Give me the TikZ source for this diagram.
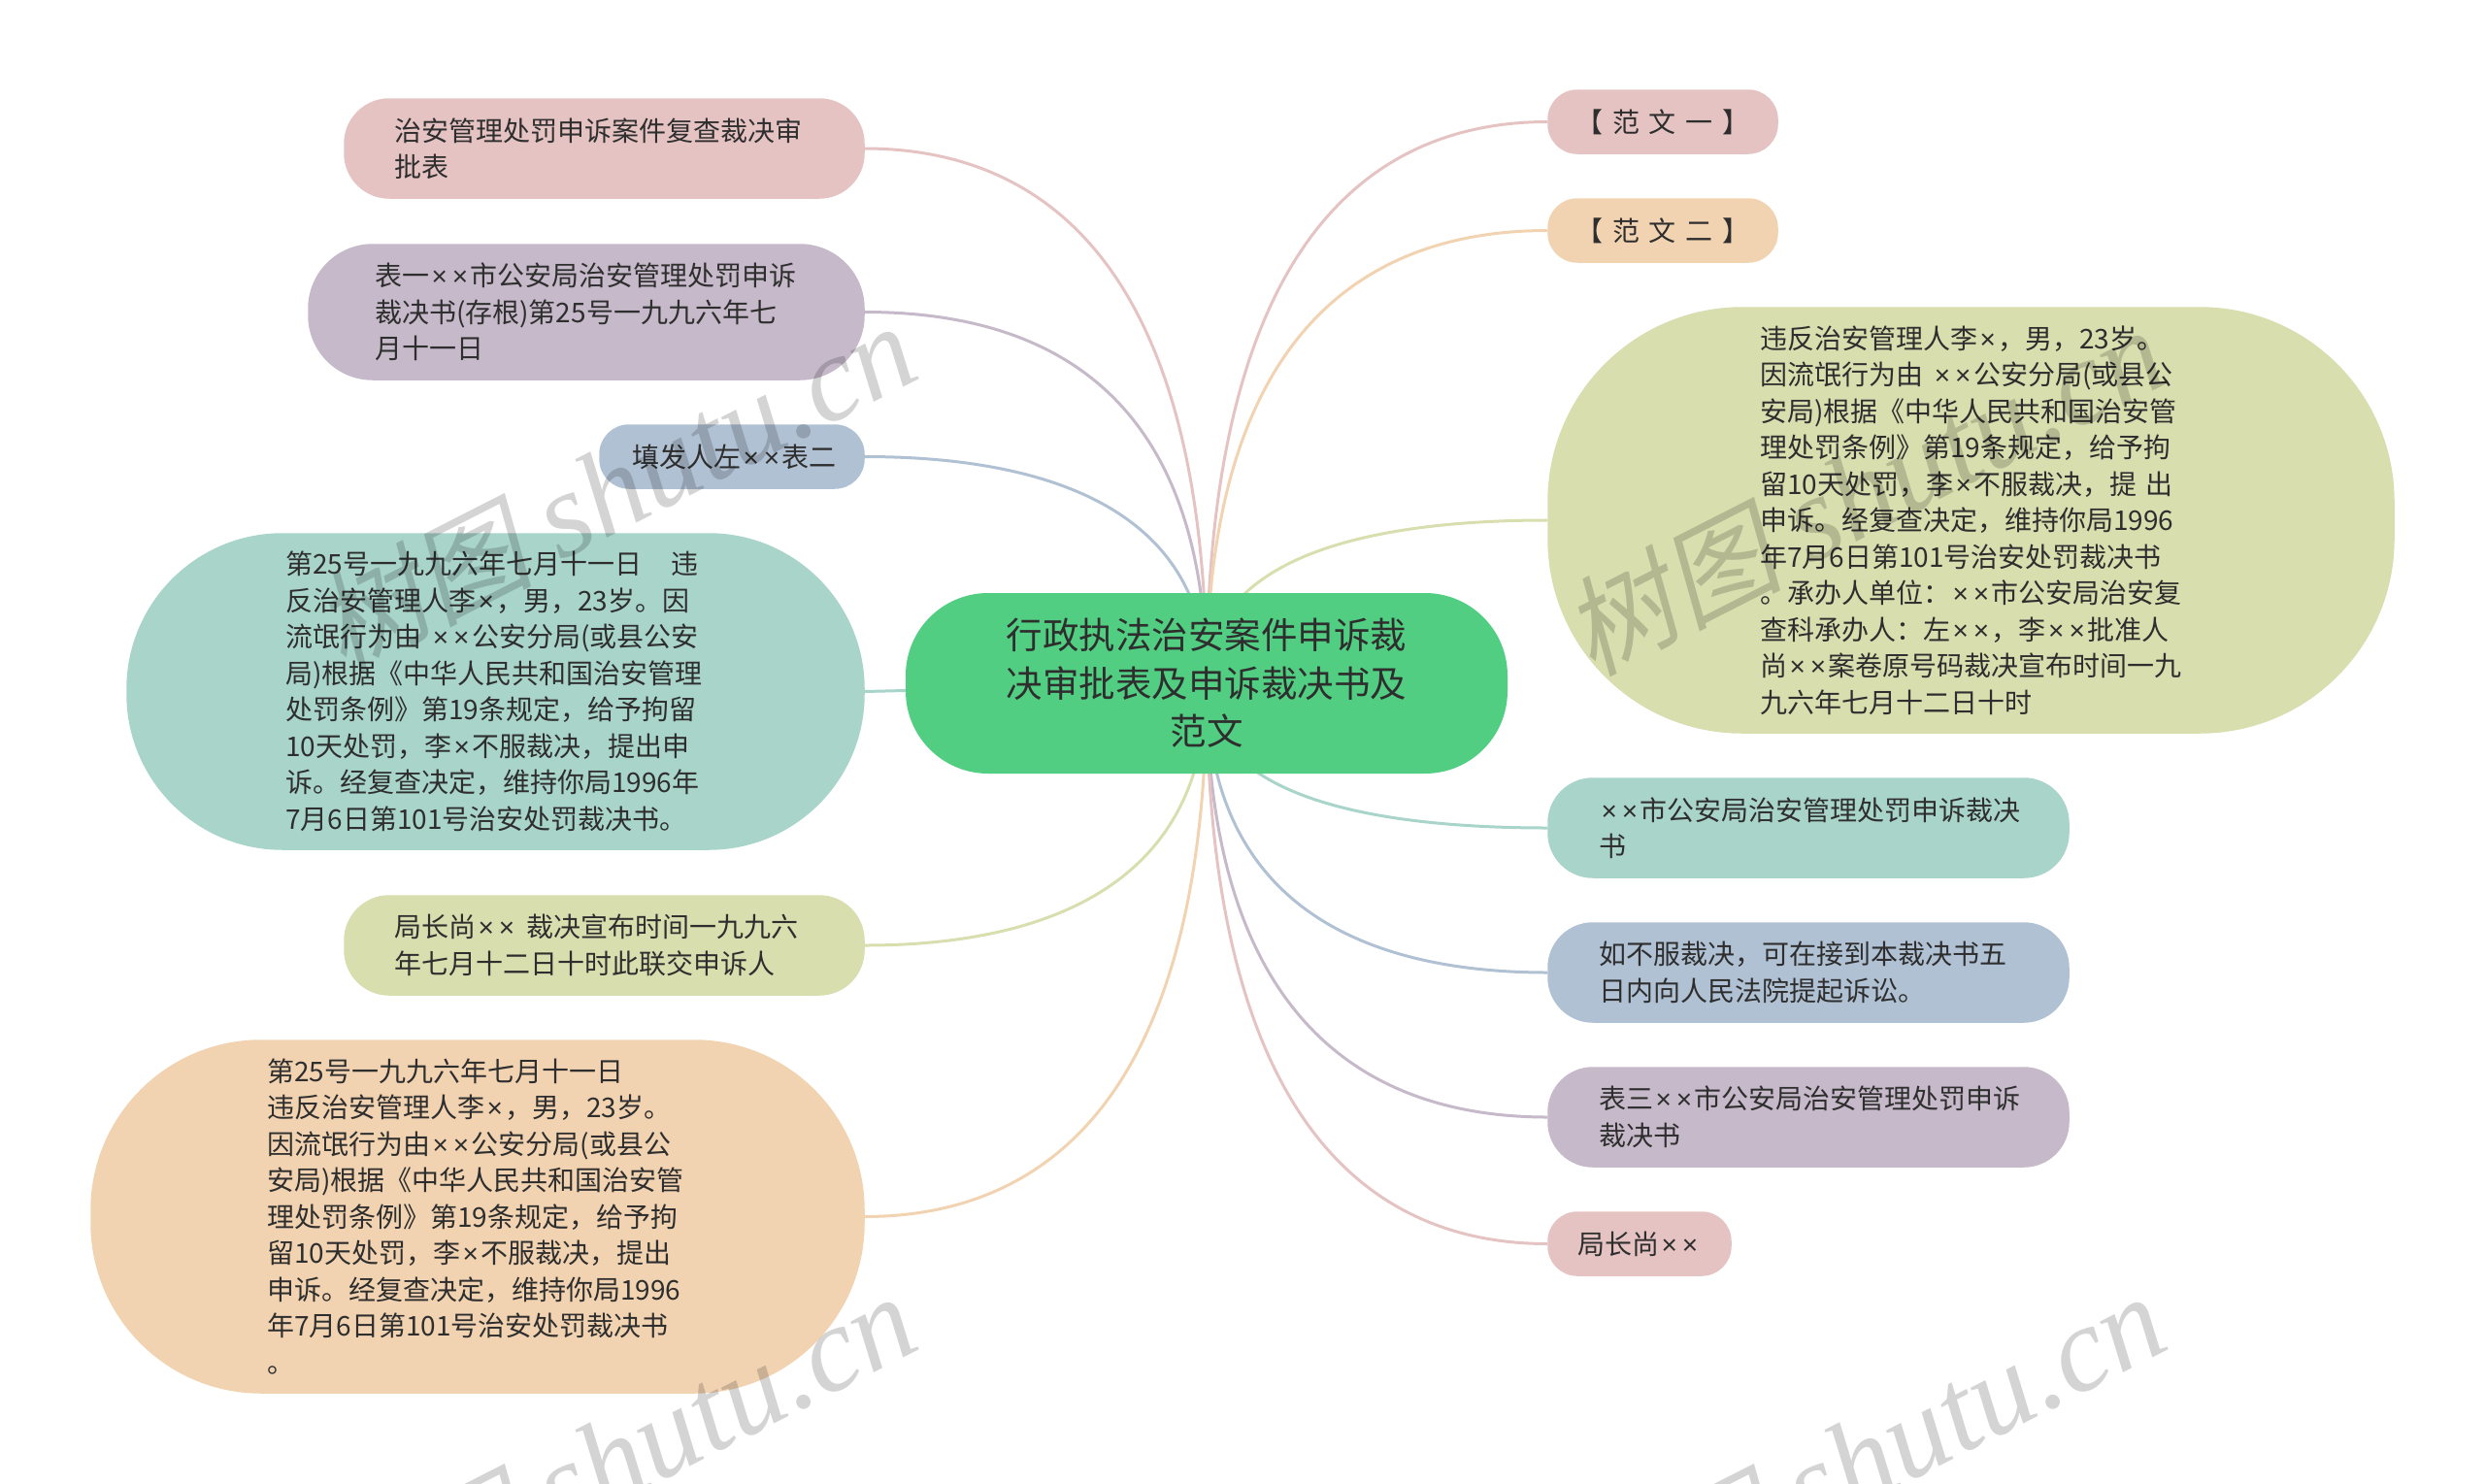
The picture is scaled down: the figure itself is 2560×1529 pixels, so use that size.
\documentclass[tikz,border=0pt]{standalone}
\usepackage{fontspec}
\setmainfont{Noto Sans CJK SC}
\newfontfamily\wmlatin{Liberation Serif}
\newfontfamily\wmcjk[FakeSlant=0.2]{Noto Sans CJK SC}
\newfontfamily\latf{Liberation Sans}
\newcommand{\xs}{\kern2.5pt{\latf ×}\kern2.5pt}
\newcommand{\xx}{\xs\xs}
\newcommand{\gp}{\ \hspace*{3.3pt}}
\usetikzlibrary{backgrounds}
\definecolor{cpink}{HTML}{E6C3C3}
\definecolor{cpeach}{HTML}{F2D3B1}
\definecolor{colive}{HTML}{D9DEAE}
\definecolor{cteal}{HTML}{A9D4CA}
\definecolor{cblue}{HTML}{B0C1D3}
\definecolor{cpurple}{HTML}{C6B9C9}
\definecolor{cgreen}{HTML}{52CE82}
\definecolor{ctext}{HTML}{2E2E2E}
\tikzset{
  leaf/.style n args={4}{rectangle, rounded corners=#2, inner sep=0pt, fill=#1,
    draw=#1, line width=1.5pt,
    minimum width=#3, minimum height=#4, text=ctext, align=left,
    font=\fontsize{28}{37.5}\selectfont},
  root/.style={rectangle, rounded corners=85pt, inner sep=0pt, fill=cgreen,
    minimum width=620pt, minimum height=186pt, text=ctext, align=center,
    font=\fontsize{37.5}{49.5}\selectfont},
  link/.style={line width=3pt},
  wm/.style={anchor=east, rotate=27, text=black, text opacity=0.17,
    inner sep=0pt, font=\fontsize{125}{125}\selectfont}
}
\newcommand{\wmtext}{{\wmcjk\fontsize{112}{125}\selectfont 树图} {\wmlatin\itshape shutu.cn}}
\begin{document}
\begin{tikzpicture}[x=1pt,y=-1pt]
\useasboundingbox (0,0) rectangle (2560,1529);
\node[root] (c) at (1243,704) {行政执法治安案件申诉裁\\决审批表及申诉裁决书及\\范文};
% left
\node[leaf={cpink}{46pt}{535pt}{102pt},text width=433pt] (a) at (622.5,153) {治安管理处罚申诉案件复查裁决审\\批表};
\node[leaf={cpurple}{66pt}{572pt}{139pt},text width=436pt] (b) at (604,321.5) {\mbox{表一\xx 市公安局治安管理处罚申诉}\\裁决书(存根)第25号一九九六年七\\月十一日};
\node[leaf={cblue}{30pt}{272pt}{65pt},text width=206pt] (l3) at (754,470.5) {\mbox{填发人左\xx 表二}};
\node[leaf={cteal}{160pt}{759pt}{325pt},text width=433pt] (d) at (510.5,712.5) {\mbox{第25号一九九六年七月十一日\hspace*{30pt}违}\\反治安管理人李\xs ，男，23岁。因\\\mbox{流氓行为由 \xx 公安分局(或县公安}\\局)根据《中华人民共和国治安管理\\处罚条例》第19条规定，给予拘留\\10天处罚，李\xs 不服裁决，提出申\\诉。经复查决定，维持你局1996年\\7月6日第101号治安处罚裁决书。};
\node[leaf={colive}{46pt}{535pt}{102pt},text width=433pt] (e) at (622.5,974) {\mbox{局长尚\xx\ 裁决宣布时间一九九六}\\年七月十二日十时此联交申诉人};
\node[leaf={cpeach}{175pt}{796pt}{363pt},text width=434pt] (f) at (492,1253.5) {第25号一九九六年七月十一日\\违反治安管理人李\xs ，男，23岁。\\\mbox{因流氓行为由\xx 公安分局(或县公}\\安局)根据《中华人民共和国治安管\\理处罚条例》第19条规定，给予拘\\留10天处罚，李\xs 不服裁决，提出\\申诉。经复查决定，维持你局1996\\年7月6日第101号治安处罚裁决书\\。};
% right
\node[leaf={cpink}{30pt}{236pt}{65pt}] (r1) at (1713,125.5) {【\gp 范\gp 文\gp 一\gp 】};
\node[leaf={cpeach}{30pt}{236pt}{65pt}] (r2) at (1713,237.5) {【\gp 范\gp 文\gp 二\gp 】};
\node[leaf={colive}{200pt}{871pt}{438pt},text width=435pt] (r3) at (2030.5,536) {违反治安管理人李\xs ，男，23岁。\\\mbox{因流氓行为由 \xx 公安分局(或县公}\\安局)根据《中华人民共和国治安管\\理处罚条例》第19条规定，给予拘\\\mbox{留10天处罚，李\xs 不服裁决，提 出}\\申诉。经复查决定，维持你局1996\\年7月6日第101号治安处罚裁决书\\\mbox{。承办人单位：\xx 市公安局治安复}\\\mbox{查科承办人：左\xx ，李\xx 批准人}\\\mbox{尚\xx 案卷原号码裁决宣布时间一九}\\九六年七月十二日十时};
\node[leaf={cteal}{46pt}{536pt}{102pt},text width=432pt] (r4) at (1863,853) {\mbox{\xx 市公安局治安管理处罚申诉裁决}\\书};
\node[leaf={cblue}{46pt}{536pt}{102pt},text width=432pt] (r5) at (1863,1002) {如不服裁决，可在接到本裁决书五\\日内向人民法院提起诉讼。};
\node[leaf={cpurple}{46pt}{536pt}{102pt},text width=432pt] (r6) at (1863,1151) {\mbox{表三\xx 市公安局治安管理处罚申诉}\\裁决书};
\node[leaf={cpink}{30pt}{188pt}{65pt},text width=128pt] (r7) at (1689,1281.5) {\mbox{局长尚\xx}};
% connectors
\begin{scope}[on background layer]
\draw[link,cpink] (c.center) .. controls +(0,-441) and +(176,0) .. (a.east);
\draw[link,cpurple] (c.center) .. controls +(0,-310) and +(176,0) .. (b.east);
\draw[link,cblue] (c.center) .. controls +(0,-186) and +(176,0) .. (l3.east);
\draw[link,cteal] (c.center) -- (d.east);
\draw[link,colive] (c.center) .. controls +(0,215) and +(176,0) .. (e.east);
\draw[link,cpeach] (c.center) .. controls +(0,440) and +(176,0) .. (f.east);
\draw[link,cpink] (c.center) .. controls +(0,-463) and +(-176,0) .. (r1.west);
\draw[link,cpeach] (c.center) .. controls +(0,-374) and +(-176,0) .. (r2.west);
\draw[link,colive] (c.center) .. controls +(0,-134) and +(-176,0) .. (r3.west);
\draw[link,cteal] (c.center) .. controls +(0,119) and +(-176,0) .. (r4.west);
\draw[link,cblue] (c.center) .. controls +(0,238) and +(-176,0) .. (r5.west);
\draw[link,cpurple] (c.center) .. controls +(0,358) and +(-176,0) .. (r6.west);
\draw[link,cpink] (c.center) .. controls +(0,462) and +(-176,0) .. (r7.west);
\end{scope}
% watermark
\node[wm] (w1) at (933,350) {\wmtext};
\node[wm] (w2) at (2220,354) {\wmtext};
\node[wm] (w3) at (933,1350) {\wmtext};
\node[wm] (w4) at (2220,1350) {\wmtext};
\end{tikzpicture}
\end{document}
